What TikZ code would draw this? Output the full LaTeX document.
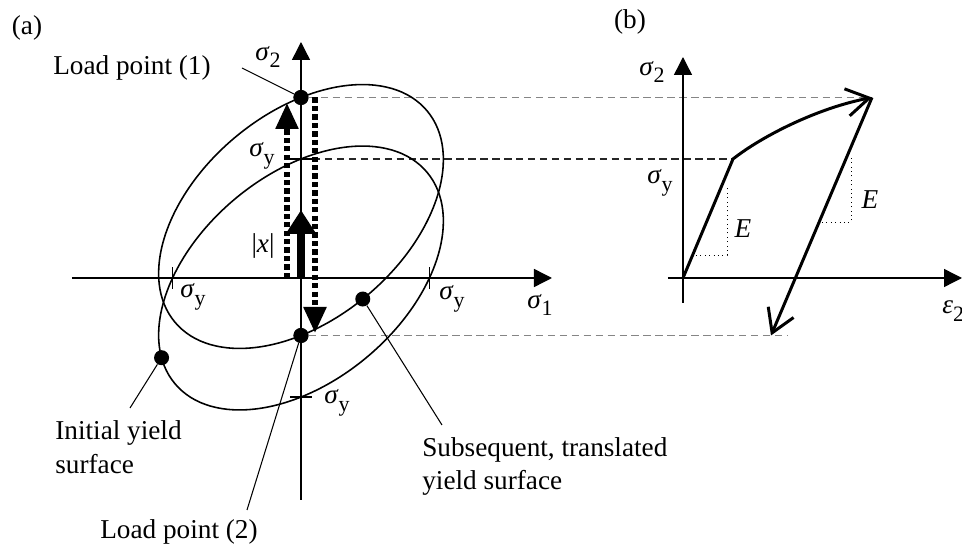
\documentclass[tikz,border=0pt]{standalone}
\usepackage{fontspec}
\setmainfont{Liberation Serif}
\usepackage{tikz}
\usetikzlibrary{arrows.meta, positioning, calc}
\definecolor{grisProy}{HTML}{858585}
\newcommand{\sig}[1]{\textit{σ}\raisebox{-0.6ex}{\fontsize{12.5}{14}\selectfont #1}}

\begin{document}
\begin{tikzpicture}[font=\fontsize{15.5}{19.3}\selectfont, >=Triangle,
        eje/.style={line width=0.8pt, -{Triangle[length=0.36cm, width=0.36cm]}},
        marca/.style={line width=0.8pt},
        superficie/.style={line width=0.9pt},
        punto/.style={circle, fill, inner sep=0pt, minimum size=0.3cm},
        guia/.style={line width=0.6pt},
        proy/.style={grisProy, line width=1.1pt, dash pattern=on 4.2pt off 2.6pt},
        proyN/.style={black!85, line width=0.9pt, dash pattern=on 4.2pt off 2.6pt},
        carga/.style={line width=3.1pt, dash pattern=on 3pt off 1.8pt, -{Triangle[length=0.52cm, width=0.44cm]}},
        despl/.style={line width=4.4pt, -{Triangle[length=0.48cm, width=0.58cm]}},
        curva/.style={line width=1.7pt},
        barb/.style={-{Straight Barb[length=0.45cm, width=0.55cm]}},
        pend/.style={line width=0.5pt, dotted},
        texto/.style={inner sep=0pt, align=left}]
        \useasboundingbox (-6.02,-5.38) rectangle (13.22,5.56);
        % puntos de referencia
        \coordinate (oA) at (0,0);
        \coordinate (syA) at (0,2.38);
        \coordinate (oB) at (7.64,0);
        \coordinate (pFlu) at (8.64,2.38);
        \coordinate (pPico) at (11.42,3.61);
        \coordinate (pFin) at (9.40,-1.15);
        \node[punto] (pLP1) at (0,3.61) {};
        \node[punto] (pLP2) at (0,-1.15) {};
        % proyecciones
        \draw[proy] (pLP1) -- (pPico);
        \draw[proyN] (syA) -- (pFlu);
        \draw[proy] (pLP2) -- ($(pFin)+(0.32,0)$);
        % superficies de fluencia
        \begin{scope}[rotate=40]
            \draw[superficie] (0,0) ellipse (3.29 and 2.06);
            \node[punto] (pIni) at (163.9:3.29 and 2.06) {};
        \end{scope}
        \begin{scope}[shift={(0,1.23)}, rotate=40]
            \draw[superficie] (0,0) ellipse (3.29 and 2.06);
            \node[punto] (pSub) at (268:3.29 and 2.06) {};
        \end{scope}
        % ejes (a)
        \draw[eje] (-4.58,0) -- (5.02,0);
        \draw[eje] (0,-4.44) -- (0,4.72);
        \foreach \s in {-2.57,2.57} \draw[marca] (\s,-0.22) -- (\s,0.22);
        \foreach \s in {-2.38,2.38} \draw[marca] (-0.22,\s) -- (0.22,\s);
        % trayectoria de carga
        \draw[carga] (-0.28,0) -- (-0.28,3.5);
        \draw[carga] (0.28,3.61) -- (0.28,-1.1);
        \draw[despl] (oA) -- (0,1.36);
        \node[punto] at (pLP1) {};
        \node[punto] at (pLP2) {};
        % textos (a)
        \node (lblA) at (-5.48,5.0) {(a)};
        \node (lblS2) at (-0.66,4.42) {\sig{2}};
        \node (lblS1) at (4.78,-0.54) {\sig{1}};
        \node (lblSyL) at (-2.16,-0.38) {\sig{y}};
        \node (lblSyR) at (3.02,-0.42) {\sig{y}};
        \node (lblSyB) at (0.72,-2.5) {\sig{y}};
        \node (lblSyT) at (-0.78,2.44) {\sig{y}};
        \node (lblX) at (-0.76,0.64) {|\textit{x}|};
        \node (lblLP1) at (-3.38,4.2) {Load point (1)};
        \node (lblLP2) at (-2.44,-5.08) {Load point (2)};
        \node[texto, anchor=west] (lblIni) at (-4.92,-3.39) {Initial yield\\surface};
        \node[texto, anchor=west] (lblSub) at (2.42,-3.77) {Subsequent, translated\\yield surface};
        \coordinate (cLP1) at (-1.18,4.2);
        \coordinate (cLP2) at (-1.08,-4.64);
        \coordinate (cIni) at (-3.42,-2.6);
        \coordinate (cSub) at (2.82,-2.94);
        \draw[guia] (cLP1) -- (pLP1);
        \draw[guia] (cLP2) -- (pLP2);
        \draw[guia] (cIni) -- (pIni);
        \draw[guia] (cSub) -- (pSub);
        % diagrama (b)
        \draw[eje] (7.64,-0.5) -- (7.64,4.42);
        \draw[eje] (7.34,0) -- (13.22,0);
        \draw[pend] (7.9,0.46) -- (8.52,0.46) -- (8.52,1.8);
        \draw[pend] (10.42,1.12) -- (11.0,1.12) -- (11.0,2.46);
        \draw[curva, barb] (oB) -- (pFlu) .. controls (9.24,2.85) and (10.34,3.4) .. (pPico);
        \draw[curva, barb] (pPico) -- (pFin);
        \node (lblB) at (6.58,5.12) {(b)};
        \node (lblS2b) at (7.02,4.12) {\sig{2}};
        \node (lblSyb) at (7.18,1.9) {\sig{y}};
        \node (lblE1) at (8.84,0.98) {\textit{E}};
        \node (lblE2) at (11.38,1.56) {\textit{E}};
        \node[texto, anchor=west] (lblEps) at (12.82,-0.66) {\textit{ε}\raisebox{-0.6ex}{\fontsize{12.5}{14}\selectfont 2}};
    \end{tikzpicture}
\end{document}
